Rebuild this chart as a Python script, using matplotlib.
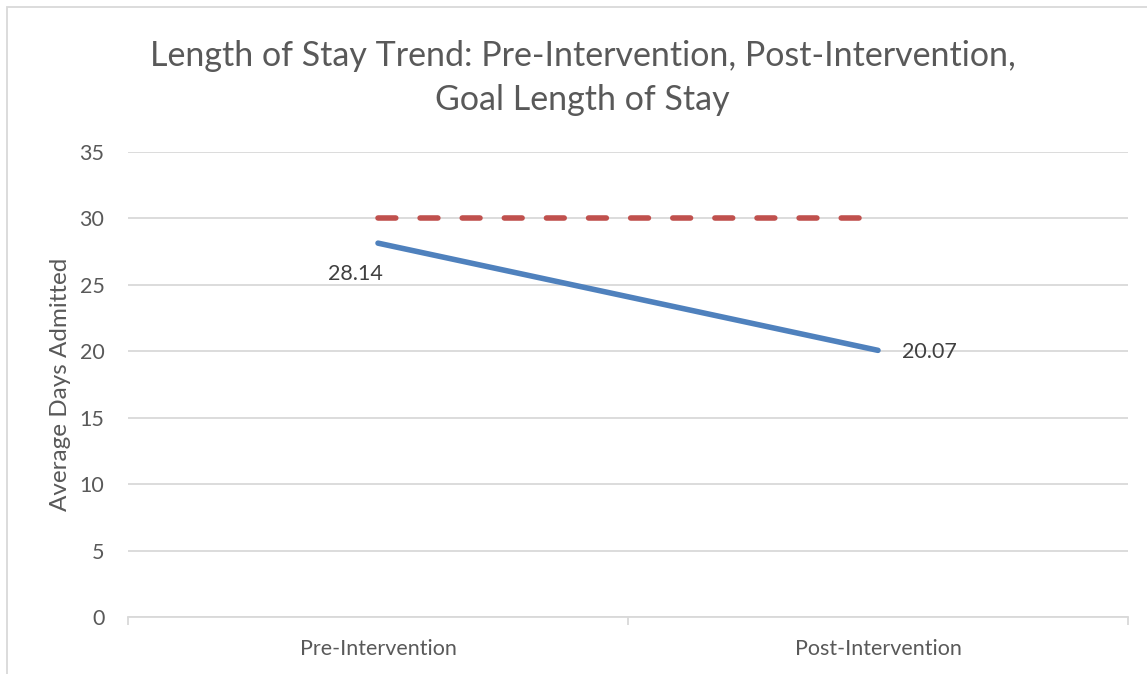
import matplotlib
matplotlib.use("Agg")
import matplotlib.pyplot as plt
from matplotlib.patches import Rectangle

categories = ["Pre-Intervention", "Post-Intervention"]
actual_los = [28.14, 20.07]
goal_los = [30, 30]
y_ticks = [0, 5, 10, 15, 20, 25, 30, 35]
title = "Length of Stay Trend: Pre-Intervention, Post-Intervention,\nGoal Length of Stay"
y_label = "Average Days Admitted"

plt.rcParams['font.family'] = ['Lato', 'DejaVu Sans']

W, H = 1147, 674
fig = plt.figure(figsize=(W / 100, H / 100), dpi=100)
fig.patch.set_facecolor("white")

# chart-area border
fig.patches.append(Rectangle((7 / W, -0.05), 1.2, 1 - 7 / H + 0.05, transform=fig.transFigure,
                             fill=False, edgecolor="#d9d9d9", linewidth=1.3))

ax = fig.add_axes([128 / W, 1 - 617 / H, 1000 / W, (617 - 152) / H])
x = list(range(len(categories)))

ax.plot(x, goal_los, color="#c0504d", linewidth=4.0, linestyle=(0, (3.2, 4.38)),
        dash_capstyle="round", solid_capstyle="round", zorder=3)
ax.plot(x, actual_los, color="#4f81bd", linewidth=4.0, solid_capstyle="round", zorder=4)

ax.set_xlim(-0.5, len(categories) - 0.5)
ax.set_ylim(0, 35)
ax.set_yticks(y_ticks)
ax.set_xticks(x)
ax.set_xticklabels(categories)
ax.grid(axis="y", color="#d9d9d9", linewidth=1.3, zorder=0)
ax.set_axisbelow(True)
for s in ["top", "right", "left"]:
    ax.spines[s].set_visible(False)
ax.spines["bottom"].set_color("#d9d9d9")
ax.spines["bottom"].set_linewidth(1.3)
ax.tick_params(axis="y", length=0, labelsize=15.5, labelcolor="#595959", pad=17)
ax.tick_params(axis="x", length=0, labelsize=15.5, labelcolor="#595959", pad=16)

# minor ticks at category boundaries
ax.set_xticks([-0.5, 0.5, 1.5], minor=True)
ax.tick_params(axis="x", which="minor", length=6, color="#d9d9d9", width=1.3)

ax.set_ylabel(y_label, fontsize=17.5, color="#595959", labelpad=6)

# data labels
ax.annotate(f"{actual_los[0]:.2f}", (x[0], actual_los[0]), xytext=(-16, -22.5),
            textcoords="offset points", ha="center", va="center", fontsize=15.5, color="#404040")
ax.annotate(f"{actual_los[1]:.2f}", (x[1], actual_los[1]), xytext=(37, -1.5),
            textcoords="offset points", ha="center", va="center", fontsize=15.5, color="#404040")

fig.text(0.5 * (150 + 1015) / W, 1 - 78 / H, title, ha="center", va="center",
         fontsize=24.5, color="#595959", linespacing=1.5)

fig.savefig("out.png", dpi=100, facecolor="white")
